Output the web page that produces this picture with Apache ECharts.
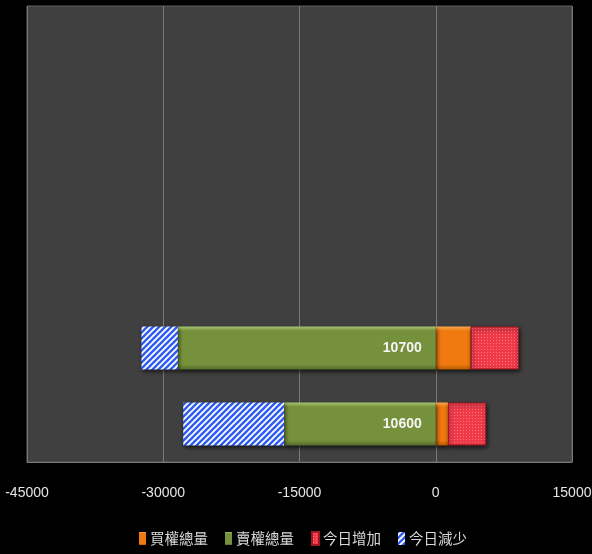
<!DOCTYPE html>
<html>
<head>
<meta charset="utf-8">
<script src="https://cdn.jsdelivr.net/npm/echarts@6/dist/echarts.min.js"></script>
<style>
html,body{margin:0;padding:0;background:#000;}
#main{width:592px;height:554px;}
</style>
</head>
<body>
<div id="main"></div>
<script>
// Data
var categories = ['10600', '10700', ' ', '  ', '   ', '    '];
var callTotal  = [1350, 3850, null, null, null, null];      // 買權總量
var putTotal   = [-16700, -28400, null, null, null, null];  // 賣權總量
var increase   = [4200, 5300, null, null, null, null];      // 今日增加
var decrease   = [-11100, -4000, null, null, null, null];   // 今日減少
var xTicks = [-45000, -30000, -15000, 0, 15000];

function stripePattern() {
  var s = 6, c = document.createElement('canvas');
  c.width = s; c.height = s;
  var g = c.getContext('2d');
  g.fillStyle = '#ffffff'; g.fillRect(0, 0, s, s);
  g.strokeStyle = '#2f5cf2'; g.lineWidth = 2.4;
  [[-s, 0], [0, 0], [s, 0]].forEach(function (o) {
    g.beginPath(); g.moveTo(o[0] - 1, s + 1); g.lineTo(o[0] + s + 1, -1); g.stroke();
  });
  return c;
}
function dotPattern() {
  var s = 3, c = document.createElement('canvas');
  c.width = s; c.height = s;
  var g = c.getContext('2d');
  g.fillStyle = '#f03a4a'; g.fillRect(0, 0, s, s);
  g.fillStyle = '#ff7482'; g.fillRect(1, 1, 1, 1);
  return c;
}
function bevel(light, main, dark) {
  return { type: 'linear', x: 0, y: 0, x2: 0, y2: 1, colorStops: [
    { offset: 0, color: light }, { offset: 0.1, color: main },
    { offset: 0.88, color: main }, { offset: 1, color: dark } ] };
}

var labelFont = '"Liberation Sans", sans-serif';
var shadow = { shadowBlur: 4, shadowOffsetY: 2, shadowOffsetX: 1, shadowColor: 'rgba(0,0,0,0.7)' };

var chart = echarts.init(document.getElementById('main'), null, { renderer: 'canvas' });
chart.setOption({
  backgroundColor: '#000000',
  animation: false,
  grid: { left: 27, right: 20, top: 6, bottom: 92, show: true, containLabel: false, outerBoundsMode: 'none',
          backgroundColor: '#404040', borderColor: '#5e5e5e', borderWidth: 1 },
  legend: {
    left: 134, top: 526, icon: 'rect', itemWidth: 7, itemHeight: 13, itemGap: 17,
    textStyle: { color: '#d9d9d9', fontSize: 14.5, fontFamily: '"Noto Sans CJK TC", sans-serif', padding: [0, 0, 0, -1] },
    data: ['買權總量', '賣權總量', '今日增加', '今日減少']
  },
  xAxis: {
    type: 'value', min: xTicks[0], max: xTicks[xTicks.length - 1], interval: 15000,
    axisLine: { show: true, lineStyle: { color: '#7a7a7a' } },
    axisTick: { show: false },
    splitLine: { show: true, lineStyle: { color: '#7a7a7a', width: 1 } },
    axisLabel: { color: '#e6e6e6', fontSize: 14, fontFamily: labelFont, margin: 24,
                 formatter: function (v) { return String(v); } }
  },
  yAxis: {
    type: 'category', data: categories,
    axisLine: { show: false },
    axisTick: { show: false },
    splitLine: { show: false },
    axisLabel: { show: false }
  },
  series: [
    { name: '買權總量', type: 'bar', stack: 'a', barWidth: 43, data: callTotal,
      itemStyle: Object.assign({ color: bevel('#f8a850', '#f07a10', '#b85a00') }, shadow) },
    { name: '賣權總量', type: 'bar', stack: 'a', barWidth: 43, data: putTotal,
      itemStyle: Object.assign({ color: bevel('#a9c874', '#76913c', '#566c2a') }, shadow),
      label: { show: true, position: 'insideRight', distance: 14, formatter: '{b}',
               color: '#f4f4f4', fontSize: 14, fontWeight: 'bold', fontFamily: labelFont } },
    { name: '今日增加', type: 'bar', stack: 'a', barWidth: 43, data: increase,
      itemStyle: Object.assign({ color: { image: dotPattern(), repeat: 'repeat' },
        borderColor: '#a01822', borderWidth: 1 }, shadow) },
    { name: '今日減少', type: 'bar', stack: 'a', barWidth: 43, data: decrease,
      itemStyle: Object.assign({ color: { image: stripePattern(), repeat: 'repeat' } }, shadow) }
  ]
});
</script>
</body>
</html>
